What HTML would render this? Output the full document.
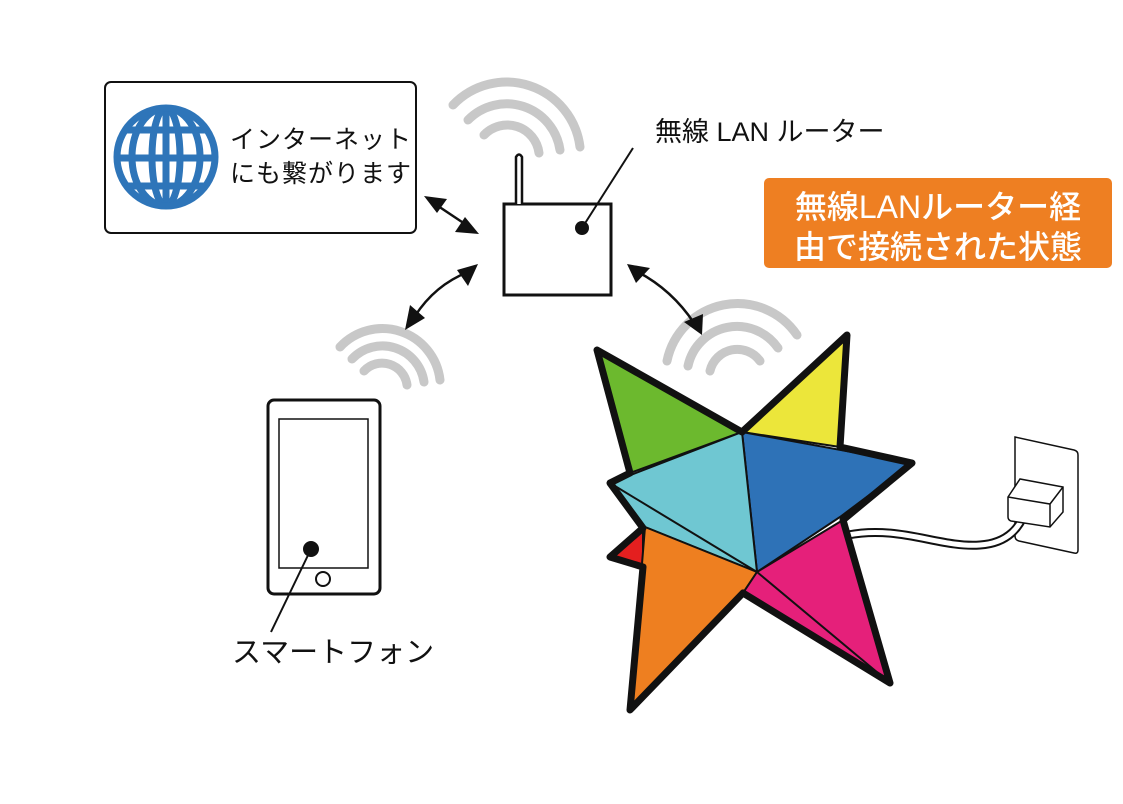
<!DOCTYPE html>
<html><head><meta charset="utf-8"><style>
html,body{margin:0;padding:0;background:#fff;}
svg{display:block;}
text{font-family:"Liberation Sans","Noto Sans CJK JP",sans-serif;}
</style></head><body>
<svg width="1123" height="804" viewBox="0 0 1123 804" xmlns="http://www.w3.org/2000/svg">
<defs>
<clipPath id="gc"><circle cx="166" cy="157" r="49"/></clipPath>
</defs>
<!-- internet box -->
<rect x="105" y="82" width="311" height="151" rx="6" fill="#fff" stroke="#111" stroke-width="2"/>
<g fill="none" stroke="#2e75b9" stroke-width="7">
<g clip-path="url(#gc)">
<line x1="166" y1="108" x2="166" y2="206"/>
<ellipse cx="166" cy="157" rx="14" ry="49"/>
<ellipse cx="166" cy="157" rx="34" ry="49"/>
<line x1="110" y1="130" x2="222" y2="130"/>
<line x1="110" y1="158" x2="222" y2="158"/>
<line x1="110" y1="186" x2="222" y2="186"/>
</g>
<circle cx="166" cy="157" r="49"/>
</g>
<text x="230" y="148" font-size="25" fill="#111" letter-spacing="1">インターネット</text>
<text x="230" y="182" font-size="25" fill="#111" letter-spacing="1">にも繋がります</text>

<!-- wifi arcs -->
<g fill="none" stroke="#c8c8c8" stroke-width="9" stroke-linecap="round">
<path d="M484,135 A32,32 0 0 1 539,153"/>
<path d="M468,120 A54,54 0 0 1 560,150"/>
<path d="M453,105 A74,74 0 0 1 580,147"/>
<path d="M364,371 A25,25 0 0 1 407,385"/>
<path d="M352,359 A42,42 0 0 1 424,382"/>
<path d="M340,347 A58,58 0 0 1 440,380"/>
<path d="M710,371 A28,28 0 0 1 760,361"/>
<path d="M688,366 A50,50 0 0 1 778,348"/>
<path d="M667,361 A72,72 0 0 1 797,335"/>
</g>

<!-- arrows -->
<g fill="none" stroke="#111" stroke-width="2.5">
<line x1="435" y1="204" x2="468" y2="226"/>
<path d="M415,316 Q435,285 468,272"/>
<path d="M638,272 Q672,290 694,323"/>
</g>
<g fill="#111">
<polygon points="424,196 447,199 437,213"/>
<polygon points="479,234 455,232 465,217"/>
<polygon points="478,264 468,286 457,270"/>
<polygon points="405,330 410,305 425,318"/>
<polygon points="627,264 650,268 636,283"/>
<polygon points="702,335 684,322 703,314"/>
</g>

<!-- router -->
<rect x="504" y="204" width="107" height="91" fill="#fff" stroke="#111" stroke-width="3"/>
<path d="M516,204 L516,157 Q519,152 522,157 L522,204" fill="#fff" stroke="#111" stroke-width="2.5"/>
<line x1="582" y1="228" x2="633" y2="148" stroke="#111" stroke-width="2"/>
<circle cx="582" cy="228" r="7" fill="#111"/>
<text x="655" y="141" font-size="27" fill="#111">無線 LAN ルーター</text>

<!-- orange label -->
<rect x="764" y="178" width="348" height="90" rx="5" fill="#ee7f22"/>
<text x="938" y="218" font-size="32" font-weight="500" fill="#fff" text-anchor="middle">無線LANルーター経</text>
<text x="938" y="258" font-size="32" font-weight="500" fill="#fff" text-anchor="middle">由で接続された状態</text>

<!-- phone -->
<rect x="268" y="400" width="112" height="194" rx="6" fill="#fff" stroke="#111" stroke-width="3"/>
<rect x="279" y="419" width="89" height="149" fill="none" stroke="#111" stroke-width="1.5"/>
<circle cx="323" cy="579" r="7" fill="none" stroke="#111" stroke-width="2"/>
<line x1="311" y1="549" x2="271" y2="632" stroke="#111" stroke-width="2"/>
<circle cx="311" cy="549" r="8" fill="#111"/>
<text x="232" y="662" font-size="29" fill="#111">スマートフォン</text>

<!-- cable & outlet -->
<path d="M1015,437 L1074,450 Q1078,451 1078,455 L1078,550 Q1078,554 1074,553 L1019,541 Q1015,540 1015,536 Z" fill="#fff" stroke="#111" stroke-width="1.5"/>
<path d="M848,535 C900,525 940,548 980,545 C1010,543 1020,525 1025,513" fill="none" stroke="#111" stroke-width="9" stroke-linecap="round"/>
<path d="M848,535 C900,525 940,548 980,545 C1010,543 1020,525 1025,513" fill="none" stroke="#fff" stroke-width="5" stroke-linecap="round"/>
<path d="M1008,497 L1020,479 L1063,487 L1063,512 L1050,527 L1011,521 Q1008,520 1008,517 Z" fill="#fff" stroke="#111" stroke-width="1.5"/>
<path d="M1008,497 L1050,504 L1063,487 M1050,504 L1050,527" fill="none" stroke="#111" stroke-width="1.5"/>
<path d="M848,535 C900,525 940,548 980,545 C1010,543 1020,525 1025,513" fill="none" stroke="#fff" stroke-width="0"/>

<!-- star -->
<g stroke="#111" stroke-width="2" stroke-linejoin="round">
<polygon points="610,557 643,528 643,567" fill="#e41f1f"/>
<polygon points="597,350 742,432 630,473" fill="#6cb92e"/>
<polygon points="742,432 847,335 840,447" fill="#ece63a"/>
<polygon points="742,432 912,463 840,517 757,572" fill="#2e72b7"/>
<polygon points="742,432 757,572 645,527 610,483" fill="#6fc7d2"/>
<polygon points="645,527 757,572 743,593 630,710" fill="#ee7f20"/>
<polygon points="757,572 843,520 890,683 743,593" fill="#e5207a"/>
<line x1="757" y1="572" x2="890" y2="683"/>
<line x1="610" y1="483" x2="757" y2="572"/>
</g>
<polygon points="597,350 742,432 847,335 840,447 912,463 843,520 890,683 743,593 630,710 643,567 610,557 643,528 610,483 630,473" fill="none" stroke="#111" stroke-width="7" stroke-linejoin="round"/>
</svg>
</body></html>
